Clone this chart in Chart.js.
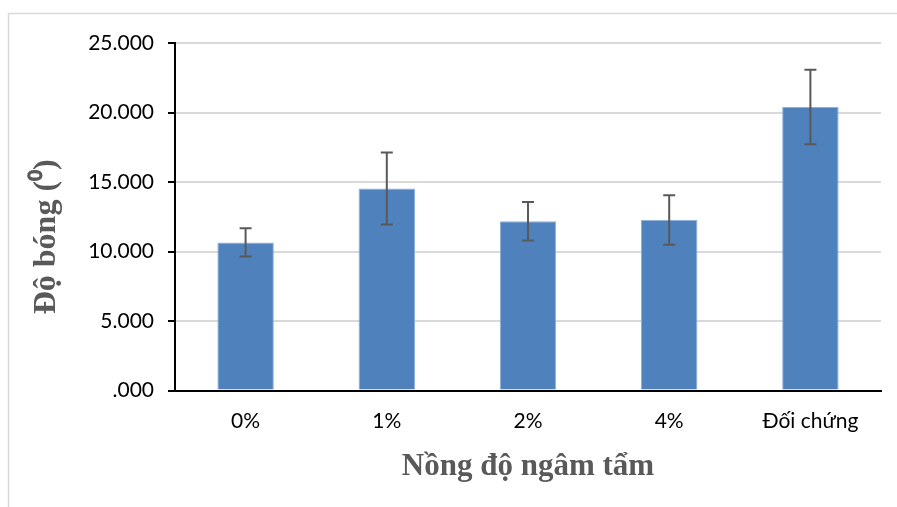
<!DOCTYPE html>
<html>
<head>
<meta charset="utf-8">
<script src="https://cdn.jsdelivr.net/npm/chart.js@4/dist/chart.umd.min.js"></script>
<style>
    html, body { margin: 0; padding: 0; background: #fff; }
    #wrap { width: 897px; height: 507px; position: relative; }
</style>
</head>
<body>
<div id="wrap"><canvas id="chart"></canvas></div>
<script>
    // data
    const categories = ['0%', '1%', '2%', '4%', 'Đối chứng'];
    const doBong = [10.66, 14.53, 12.18, 12.27, 20.39];
    const saiSo = [1.01, 2.59, 1.38, 1.78, 2.68];
    const yTicks = [0, 5, 10, 15, 20, 25];

    const tickFont = { family: 'Lato', size: 21 };
    const titleFont = { family: 'Liberation Serif', size: 31, weight: 'bold' };

    // light frame around the chart, like the office export
    const framePlugin = {
        id: 'frame',
        beforeDraw(chart) {
            const ctx = chart.ctx;
            ctx.save();
            ctx.strokeStyle = '#d9d9d9';
            ctx.lineWidth = 1.5;
            ctx.strokeRect(8.5, 13.5, 920, 520);
            ctx.restore();
        }
    };

    // error bars from the value arrays, through the y scale
    const errorBarPlugin = {
        id: 'errorBars',
        afterDatasetsDraw(chart) {
            const ctx = chart.ctx;
            const y = chart.scales.y;
            const meta = chart.getDatasetMeta(0);
            ctx.save();
            ctx.strokeStyle = '#595959';
            ctx.lineWidth = 2;
            meta.data.forEach(function (bar, i) {
                const x = bar.x;
                const yTop = y.getPixelForValue(doBong[i] + saiSo[i]);
                const yBot = y.getPixelForValue(doBong[i] - saiSo[i]);
                ctx.beginPath();
                ctx.moveTo(x, yTop);
                ctx.lineTo(x, yBot);
                ctx.moveTo(x - 6, yTop);
                ctx.lineTo(x + 6, yTop);
                ctx.moveTo(x - 6, yBot);
                ctx.lineTo(x + 6, yBot);
                ctx.stroke();
            });
            ctx.restore();
        }
    };

    new Chart(document.getElementById('chart'), {
        type: 'bar',
        data: {
            labels: categories,
            datasets: [{
                label: 'Độ bóng',
                data: doBong,
                backgroundColor: '#4f81bd',
                borderColor: '#8eb0d9',
                borderWidth: 1,
                barPercentage: 0.4,
                categoryPercentage: 1
            }]
        },
        options: {
            responsive: true,
            maintainAspectRatio: false,
            animation: false,
            layout: {
                padding: { top: 43, right: 16, bottom: 21, left: 0 }
            },
            plugins: {
                legend: { display: false },
                tooltip: { enabled: false }
            },
            scales: {
                x: {
                    grid: { display: false, drawTicks: false },
                    border: { display: true, color: '#000', width: 2 },
                    ticks: { color: '#000', font: tickFont, padding: 18 },
                    title: {
                        display: true,
                        text: 'Nồng độ ngâm tẩm',
                        color: '#595959',
                        font: titleFont,
                        padding: { top: -3, bottom: 0 }
                    }
                },
                y: {
                    min: 0,
                    max: 25,
                    afterFit(scale) { scale.width = 175; },
                    afterBuildTicks(scale) {
                        scale.ticks = yTicks.map(function (v) { return { value: v }; });
                    },
                    grid: {
                        color: '#d9d9d9',
                        lineWidth: 2,
                        tickColor: '#000',
                        tickLength: 7,
                        tickWidth: 2
                    },
                    border: { display: true, color: '#000', width: 2 },
                    ticks: {
                        color: '#000',
                        font: tickFont,
                        padding: 14,
                        callback: function (v) { return v === 0 ? '.000' : v.toFixed(3); }
                    },
                    title: {
                        display: true,
                        // trailing spaces push the title a bit lower, as in the original
                        text: 'Độ bóng (⁰)\u00a0\u00a0\u00a0\u00a0\u00a0',
                        color: '#595959',
                        font: { family: 'Liberation Serif', size: 32, weight: 'bold' },
                        padding: { top: 28, bottom: 0 }
                    }
                }
            }
        },
        plugins: [framePlugin, errorBarPlugin]
    });
</script>
</body>
</html>
